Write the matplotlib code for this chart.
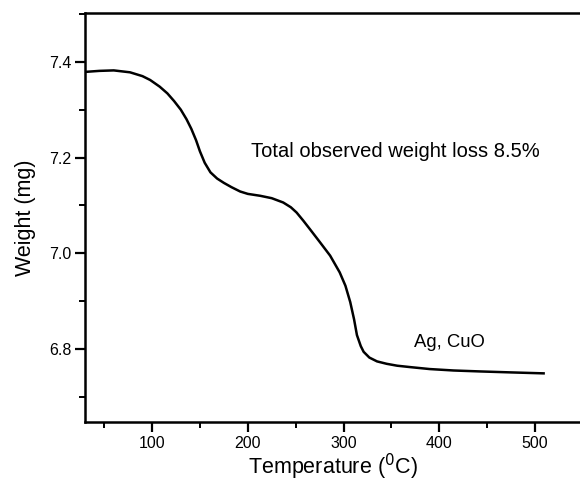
import matplotlib
matplotlib.use('Agg')
import matplotlib.pyplot as plt
from matplotlib.ticker import MultipleLocator

# TGA curve
temperature = [31, 45, 60, 77, 90, 98, 108, 116, 123, 130, 136, 141, 146, 150,
               155, 161, 168, 175, 183, 192, 200, 213, 225, 237, 245, 251, 258,
               265, 275, 286, 296, 302, 307, 311, 314, 318, 321, 327, 335, 345,
               356, 370, 390, 415, 443, 475, 509]
weight = [7.379, 7.381, 7.382, 7.378, 7.370, 7.362, 7.348, 7.334, 7.318, 7.300,
          7.280, 7.260, 7.236, 7.213, 7.189, 7.169, 7.156, 7.147, 7.138, 7.129,
          7.124, 7.120, 7.115, 7.106, 7.096, 7.085, 7.068, 7.050, 7.024, 6.995,
          6.960, 6.932, 6.898, 6.862, 6.829, 6.806, 6.794, 6.782, 6.774, 6.769,
          6.765, 6.762, 6.758, 6.755, 6.753, 6.751, 6.749]

xTicks = [100, 200, 300, 400, 500]
yTicks = [6.8, 7.0, 7.2, 7.4]

plt.rcParams['font.family'] = ['Liberation Sans', 'DejaVu Sans']

fig = plt.figure(figsize=[5.8, 4.82], dpi=100)
ax = fig.add_axes([0.1466, 0.1251, 0.8534, 0.848])

ax.plot(temperature, weight, color='black', linewidth=1.8)

ax.set_xlim(30, 547)
ax.set_ylim(6.648, 7.502)
ax.set_xticks(xTicks)
ax.set_yticks(yTicks)
ax.set_yticklabels(['%.1f' % v for v in yTicks])
ax.xaxis.set_minor_locator(MultipleLocator(50))
ax.yaxis.set_minor_locator(MultipleLocator(0.1))

ax.tick_params(which='major', direction='out', length=7, width=1.6, labelsize=11.5, pad=3)
ax.tick_params(which='minor', direction='out', length=4, width=1.4)
ax.tick_params(top=False, right=False)
for side in ['left', 'bottom', 'top']:
    ax.spines[side].set_linewidth(1.8)
ax.spines['right'].set_visible(False)

ax.set_xlabel('Temperature ($^{0}$C)', fontsize=15.5, labelpad=1)
ax.set_ylabel('Weight (mg)', fontsize=15.5, labelpad=9)

ax.text(203, 7.213, 'Total observed weight loss 8.5%', fontsize=14.5, va='center', ha='left')
ax.text(374, 6.813, 'Ag, CuO', fontsize=13.3, va='center', ha='left')

fig.savefig('out.png', dpi=100)
